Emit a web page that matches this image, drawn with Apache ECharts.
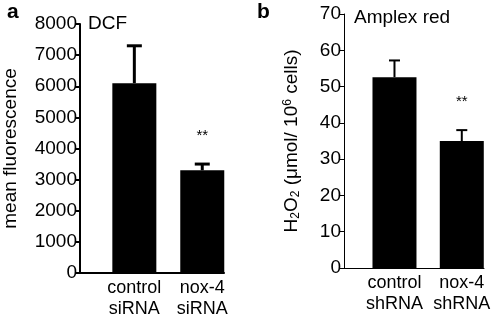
<!DOCTYPE html>
<html>
<head>
<meta charset="utf-8">
<script src="https://cdn.jsdelivr.net/npm/echarts@6/dist/echarts.min.js"></script>
<style>
  html, body { margin: 0; padding: 0; background: #fff; }
  #chart { width: 496px; height: 320px; }
</style>
</head>
<body>
<div id="chart"></div>
<script>
// panel a - DCF
var categoriesA = ['control\nsiRNA', 'nox-4\nsiRNA'];
var meanA = [6100, 3300];
var errA = [1200, 200];
var sigA = ['', '**'];

// panel b - Amplex red
var categoriesB = ['control\nshRNA', 'nox-4\nshRNA'];
var meanB = [52.6, 35.0];
var errB = [4.6, 3.0];
var sigB = ['', '**'];

var FONT = 'Liberation Sans, Arial, sans-serif';

function barData(mean) {
  return mean.map(function (v, i) { return [i, v]; });
}
function errData(mean, err, sig) {
  return mean.map(function (v, i) { return [i, v, err[i], sig[i]]; });
}

// error bar (upper half) + significance stars
function errorBar(lineW, capW) {
  return function (params, api) {
    var x = api.value(0), v = api.value(1), e = api.value(2);
    var p0 = api.coord([x, v]);
    var p1 = api.coord([x, v + e]);
    var style = { stroke: '#000', lineWidth: lineW };
    var children = [
      { type: 'line', shape: { x1: p0[0], y1: p0[1], x2: p1[0], y2: p1[1] }, style: style },
      { type: 'line', shape: { x1: p1[0] - capW / 2, y1: p1[1], x2: p1[0] + capW / 2, y2: p1[1] }, style: style }
    ];
    var s = api.value(3);
    if (s) {
      children.push({
        type: 'text',
        style: { text: s, x: p1[0], y: p1[1] - 28, align: 'center', verticalAlign: 'middle',
                 font: '15px ' + FONT, fill: '#000' }
      });
    }
    return { type: 'group', children: children };
  };
}

function xAxisOf(gridIndex, cats, min, max, lw) {
  return {
    type: 'value', gridIndex: gridIndex, min: min, max: max,
    splitLine: { show: false },
    axisLine: { show: true, onZero: false, lineStyle: { color: '#000', width: lw } },
    axisTick: { show: false },
    axisLabel: {
      customValues: [0, 1],
      formatter: function (v) { return cats[Math.round(v)]; },
      color: '#000', fontFamily: FONT, fontSize: 18, lineHeight: 21, margin: 5
    }
  };
}

function yAxisOf(gridIndex, max, interval, name, lw, nameGap) {
  return {
    type: 'value', gridIndex: gridIndex, min: 0, max: max, interval: interval,
    name: name, nameLocation: 'middle', nameGap: nameGap, nameRotate: 90,
    nameTextStyle: {
      color: '#000', fontFamily: FONT, fontSize: 19,
      rich: {
        n: { fontFamily: FONT, fontSize: 19, color: '#000' },
        sub: { fontFamily: FONT, fontSize: 12, color: '#000', verticalAlign: 'bottom', padding: [8, 0, 0, 0] },
        sup: { fontFamily: FONT, fontSize: 12, color: '#000', verticalAlign: 'top', padding: [0, 0, 8, 0] }
      }
    },
    splitLine: { show: false },
    axisLine: { show: true, onZero: false, lineStyle: { color: '#000', width: lw } },
    axisTick: { show: true, length: 5, lineStyle: { color: '#000', width: lw } },
    axisLabel: {
      color: '#000', fontFamily: FONT, fontSize: 19, margin: 3,
      formatter: function (v) { return String(v); }
    }
  };
}

var chart = echarts.init(document.getElementById('chart'), null, { renderer: 'canvas' });
chart.setOption({
  animation: false,
  backgroundColor: '#fff',
  title: [
    { text: 'a', left: 2, top: -3, textStyle: { fontFamily: FONT, fontSize: 21, fontWeight: 'bold', color: '#000' } },
    { text: 'b', left: 252, top: -3, textStyle: { fontFamily: FONT, fontSize: 21, fontWeight: 'bold', color: '#000' } },
    { text: 'DCF', left: 83, top: 9, textStyle: { fontFamily: FONT, fontSize: 19, fontWeight: 'normal', color: '#000' } },
    { text: 'Amplex red', left: 349, top: 3, textStyle: { fontFamily: FONT, fontSize: 19, fontWeight: 'normal', color: '#000' } }
  ],
  grid: [
    { left: 78, right: 272, top: 24, bottom: 47 },
    { left: 344, right: 12, top: 14, bottom: 52 }
  ],
  xAxis: [
    xAxisOf(0, categoriesA, -0.8, 1.32, 2),
    xAxisOf(1, categoriesB, -0.75, 1.33, 1)
  ],
  yAxis: [
    yAxisOf(0, 8000, 1000, 'mean fluorescence', 2, 60),
    yAxisOf(1, 70, 10, '{n|H}{sub|2}{n|O}{sub|2}{n| (μmol/ 10}{sup|6}{n| cells)}', 1, 42)
  ],
  series: [
    { type: 'bar', xAxisIndex: 0, yAxisIndex: 0, data: barData(meanA), barWidth: 44,
      itemStyle: { color: '#000' } },
    { type: 'custom', xAxisIndex: 0, yAxisIndex: 0, data: errData(meanA, errA, sigA),
      renderItem: errorBar(3, 15), encode: { x: 0, y: 1 }, z: 3 },
    { type: 'bar', xAxisIndex: 1, yAxisIndex: 1, data: barData(meanB), barWidth: 44,
      itemStyle: { color: '#000' } },
    { type: 'custom', xAxisIndex: 1, yAxisIndex: 1, data: errData(meanB, errB, sigB),
      renderItem: errorBar(2, 11), encode: { x: 0, y: 1 }, z: 3 }
  ]
});
</script>
</body>
</html>
